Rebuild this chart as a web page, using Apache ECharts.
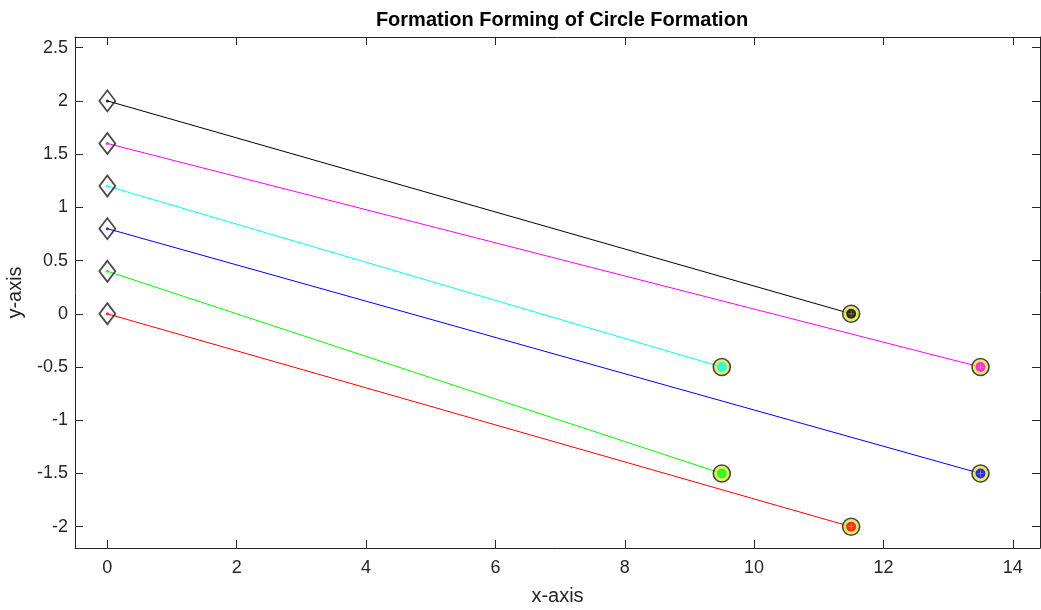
<!DOCTYPE html>
<html>
<head>
<meta charset="utf-8">
<title>Formation Forming of Circle Formation</title>
<script src="https://cdn.jsdelivr.net/npm/echarts@6/dist/echarts.min.js"></script>
<style>
  html, body { margin: 0; padding: 0; background: #fff; }
  #chart { width: 1041px; height: 610px; }
</style>
</head>
<body>
<div id="chart"></div>
<script>
// Agent trajectories: start position (diamond) to final position (circle)
const agentColors = ['#000000', '#ff00ff', '#00ffff', '#0000ff', '#00ff00', '#ff0000'];
const startX = [0, 0, 0, 0, 0, 0];
const startY = [2, 1.6, 1.2, 0.8, 0.4, 0];
const endX = [11.5, 13.5, 9.5, 13.5, 9.5, 11.5];
const endY = [0, -0.5, -0.5, -1.5, -1.5, -2];

const xTicks = [0, 2, 4, 6, 8, 10, 12, 14];
const yTicks = [-2, -1.5, -1, -0.5, 0, 0.5, 1, 1.5, 2, 2.5];

const FONT = 'Liberation Sans, Arial, sans-serif';
const AXIS_COLOR = '#262626';

const chart = echarts.init(document.getElementById('chart'), null, { renderer: 'canvas' });

function makeX(pos, showLabel, name) {
  return {
    type: 'value', position: pos, min: -0.5, max: 14.42,
    name: name, nameLocation: 'middle', nameGap: 38,
    nameTextStyle: { fontFamily: FONT, fontSize: 20, color: AXIS_COLOR },
    axisLine: { show: true, onZero: false, lineStyle: { color: AXIS_COLOR, width: 1 } },
    axisTick: { show: true, inside: true, length: 8, customValues: xTicks, lineStyle: { color: AXIS_COLOR } },
    axisLabel: { show: showLabel, customValues: xTicks, margin: 11, fontFamily: FONT, fontSize: 18, color: AXIS_COLOR },
    splitLine: { show: false }
  };
}
function makeY(pos, showLabel, name) {
  return {
    type: 'value', position: pos, min: -2.2, max: 2.6,
    name: name, nameLocation: 'middle', nameGap: 50,
    nameTextStyle: { fontFamily: FONT, fontSize: 20, color: AXIS_COLOR },
    axisLine: { show: true, onZero: false, lineStyle: { color: AXIS_COLOR, width: 1 } },
    axisTick: { show: true, inside: true, length: 8, customValues: yTicks, lineStyle: { color: AXIS_COLOR } },
    axisLabel: { show: showLabel, customValues: yTicks, margin: 7, fontFamily: FONT, fontSize: 18, color: AXIS_COLOR },
    splitLine: { show: false }
  };
}

const series = [];
// Trajectory lines
agentColors.forEach((c, i) => {
  series.push({
    type: 'line', data: [[startX[i], startY[i]], [endX[i], endY[i]]],
    symbol: 'none', lineStyle: { color: c, width: 1 }, z: 2, silent: true
  });
});
// Start markers: hollow diamonds with a small dot of the agent colour
series.push({
  type: 'scatter', symbol: 'diamond', symbolSize: [16, 21], z: 3, silent: true,
  data: startX.map((x, i) => [x, startY[i]]),
  itemStyle: { color: 'rgba(255,255,255,0)', borderColor: '#1a1a1a', borderWidth: 1.8 }
});
series.push({
  type: 'scatter', symbol: 'circle', symbolSize: 3, z: 4, silent: true,
  data: startX.map((x, i) => ({ value: [x, startY[i]], itemStyle: { color: agentColors[i] } }))
});
// End markers: yellow ring with dark outline around a filled circle of the agent colour
series.push({
  type: 'scatter', symbol: 'circle', symbolSize: 17, z: 5, silent: true,
  data: endX.map((x, i) => [x, endY[i]]),
  itemStyle: { color: '#e4e44a', borderColor: '#1a1a1a', borderWidth: 1.6 }
});
series.push({
  type: 'scatter', symbol: 'circle', symbolSize: 10, z: 6, silent: true,
  data: endX.map((x, i) => ({ value: [x, endY[i]], itemStyle: { color: agentColors[i] } }))
});
series.push({
  type: 'scatter', z: 7, silent: true, symbolSize: 6,
  symbol: 'path://M-0.12,-1h0.24v2h-0.24zM-1,-0.12h2v0.24h-2z',
  data: endX.map((x, i) => [x, endY[i]]),
  itemStyle: { color: 'rgba(200,200,120,0.8)' }
});

chart.setOption({
  animation: false,
  backgroundColor: '#ffffff',
  title: {
    text: 'Formation Forming of Circle Formation',
    left: 557, top: 5, textAlign: 'center',
    textStyle: { fontFamily: FONT, fontSize: 20, fontWeight: 'bold', color: '#000' }
  },
  grid: { left: 75, right: 1, top: 37, bottom: 62, containLabel: false, outerBoundsMode: 'none' },
  xAxis: [makeX('bottom', true, 'x-axis'), makeX('top', false, '')],
  yAxis: [makeY('left', true, 'y-axis'), makeY('right', false, '')],
  series: series
});
</script>
</body>
</html>
